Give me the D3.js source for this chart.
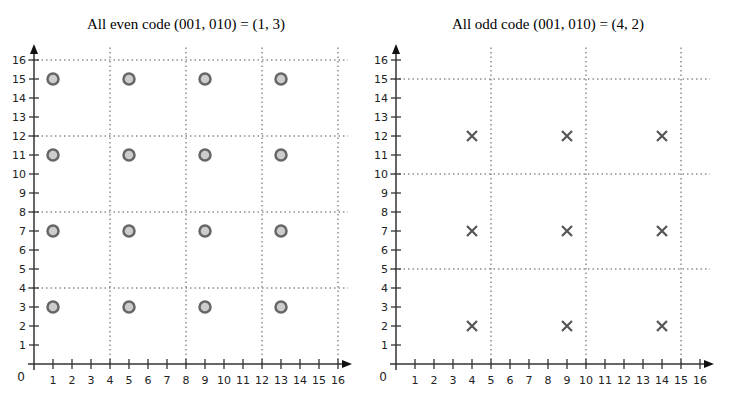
<!DOCTYPE html>
<html><head><meta charset="utf-8">
<script src="https://cdn.jsdelivr.net/npm/d3@7"></script>
<style>body{margin:0;background:#fff}</style>
</head><body><div id="chart"></div>
<script>
const ticks = d3.range(1, 17)
const evenTitle = "All even code (001, 010) = (1, 3)"
const oddTitle = "All odd code (001, 010) = (4, 2)"
const evenGrid = [4, 8, 12, 16]
const oddGrid = [5, 10, 15]
const evenPoints = [[1,15],[5,15],[9,15],[13,15],[1,11],[5,11],[9,11],[13,11],[1,7],[5,7],[9,7],[13,7],[1,3],[5,3],[9,3],[13,3]]
const oddPoints = [[4,12],[9,12],[14,12],[4,7],[9,7],[14,7],[4,2],[9,2],[14,2]]

const svg = d3.select("#chart").append("svg").attr("width", 731).attr("height", 415)

function panel(x0, title, grid, points, marker) {
    const x = d3.scaleLinear().domain([0, 16]).range([x0, x0 + 304])
    const y = d3.scaleLinear().domain([0, 16]).range([364, 60])
    const g = svg.append("g")
    const ink = "#333"

    g.append("text").attr("x", x0 + 152).attr("y", 29).attr("text-anchor", "middle")
        .style("font-family", "Liberation Serif, serif").style("font-size", "15px").text(title)

    // dotted grid
    g.selectAll(".vg").data(grid).enter().append("line")
        .attr("x1", d => x(d)).attr("x2", d => x(d)).attr("y1", y(0)).attr("y2", 46)
        .attr("stroke", "#555").attr("stroke-dasharray", "1.5,3")
    g.selectAll(".hg").data(grid).enter().append("line")
        .attr("x1", x0 - 6).attr("x2", x0 + 314).attr("y1", d => y(d)).attr("y2", d => y(d))
        .attr("stroke", "#555").attr("stroke-dasharray", "1.5,3")

    // axes
    g.append("line").attr("x1", x0 - 6).attr("x2", x0 + 312).attr("y1", y(0)).attr("y2", y(0)).attr("stroke", ink).attr("stroke-width", 1.5)
    g.append("line").attr("x1", x0).attr("x2", x0).attr("y1", y(0) + 6).attr("y2", 50).attr("stroke", ink).attr("stroke-width", 1.5)
    g.append("path").attr("d", `M${x0 + 318},${y(0)} l-10,-4 l0,8 z`).attr("fill", "#111")
    g.append("path").attr("d", `M${x0},44 l-4,10 l8,0 z`).attr("fill", "#111")

    g.selectAll(".xt").data(ticks).enter().append("line")
        .attr("x1", d => x(d)).attr("x2", d => x(d)).attr("y1", y(0) - 5).attr("y2", y(0) + 5).attr("stroke", ink).attr("stroke-width", 1.3)
    g.selectAll(".yt").data(ticks).enter().append("line")
        .attr("y1", d => y(d)).attr("y2", d => y(d)).attr("x1", x0 - 5).attr("x2", x0 + 5).attr("stroke", ink).attr("stroke-width", 1.3)

    const lab = { "font-family": "DejaVu Sans, sans-serif", "font-size": "11px", "fill": "#222" }
    g.selectAll(".xl").data(ticks).enter().append("text")
        .attr("x", d => x(d)).attr("y", y(0) + 20).attr("text-anchor", "middle").text(d => d)
        .each(function () { for (const k in lab) d3.select(this).style(k, lab[k]) })
    g.selectAll(".yl").data(ticks).enter().append("text")
        .attr("x", x0 - 8).attr("y", d => y(d) + 4).attr("text-anchor", "end").text(d => d)
        .each(function () { for (const k in lab) d3.select(this).style(k, lab[k]) })
    g.append("text").attr("x", x0 - 9).attr("y", y(0) + 17).attr("text-anchor", "end").text("0")
        .style("font-family", "DejaVu Sans, sans-serif").style("font-size", "12px").style("fill", "#222")

    if (marker == "circle") {
        g.selectAll(".pt").data(points).enter().append("circle")
            .attr("cx", d => x(d[0])).attr("cy", d => y(d[1])).attr("r", 5.5)
            .attr("fill", "#ccc").attr("stroke", "#666").attr("stroke-width", 2.5)
    } else {
        g.selectAll(".pt").data(points).enter().append("path")
            .attr("d", d => `M${x(d[0]) - 5},${y(d[1]) - 5}L${x(d[0]) + 5},${y(d[1]) + 5}M${x(d[0]) - 5},${y(d[1]) + 5}L${x(d[0]) + 5},${y(d[1]) - 5}`)
            .attr("stroke", "#555").attr("stroke-width", 2.2)
    }
}

panel(34, evenTitle, evenGrid, evenPoints, "circle")
panel(396, oddTitle, oddGrid, oddPoints, "cross")
</script>
</body></html>
